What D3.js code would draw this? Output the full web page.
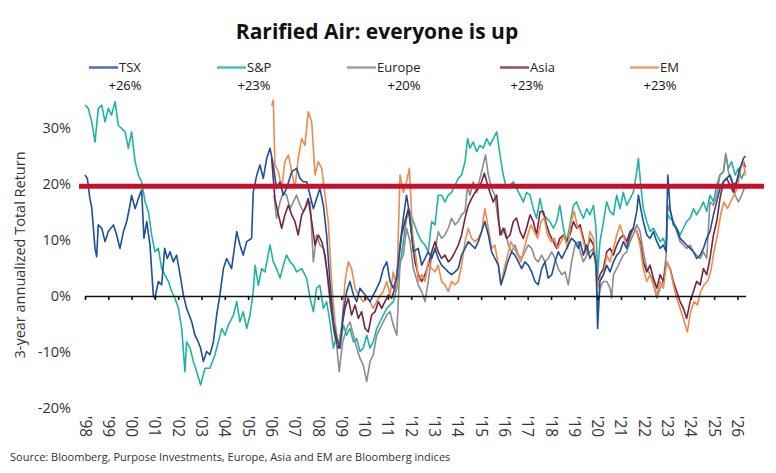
<!DOCTYPE html>
<html><head>
<meta charset="utf-8">
<title>Rarified Air</title>
<script src="https://d3js.org/d3.v7.min.js"></script>
<style>
  body { margin: 0; background: #fff; }
  text { font-family: "Open Sans", "DejaVu Sans", sans-serif; fill: #333; }
</style>
</head>
<body>
<svg id="chart" width="776" height="473"></svg>
<script>

// ---- data (3-year annualized total return, %)
const seriesNames = ["TSX", "S&P", "Europe", "Asia", "EM"];
const latestReturns = ["+26%", "+23%", "+20%", "+23%", "+23%"];
const thresholdValue = 19.6;
const yTicks = [-20, -10, 0, 10, 20, 30];
const xTickYears = [1998, 1999, 2000, 2001, 2002, 2003, 2004, 2005, 2006, 2007, 2008, 2009, 2010,
  2011, 2012, 2013, 2014, 2015, 2016, 2017, 2018, 2019, 2020, 2021, 2022, 2023, 2024, 2025, 2026];

const tsx = [
  [1998.00,21.6],[1998.10,21.0],[1998.21,17.4],[1998.29,15.8],[1998.36,12.1],[1998.43,8.5],[1998.50,7.0],
  [1998.57,12.7],[1998.72,12.1],[1998.86,9.7],[1999.00,11.5],[1999.22,12.7],[1999.36,10.9],[1999.50,8.5],
  [1999.65,11.5],[1999.79,13.3],[1999.93,16.2],[2000.00,18.0],[2000.15,15.6],[2000.29,17.4],[2000.43,18.9],
  [2000.53,10.3],[2000.65,13.3],[2000.79,9.1],[2000.93,0.2],[2001.00,-0.4],[2001.15,2.6],[2001.29,2.0],
  [2001.42,8.5],[2001.53,6.7],[2001.65,7.9],[2001.79,6.1],[2001.93,7.3],[2002.08,3.8],[2002.22,0.2],
  [2002.36,-2.2],[2002.58,-4.6],[2002.72,-7.0],[2002.86,-8.2],[2002.96,-9.3],[2003.08,-11.7],[2003.22,-9.9],
  [2003.36,-10.5],[2003.51,-8.2],[2003.65,-3.4],[2003.79,0.2],[2003.94,4.9],[2004.08,6.7],[2004.29,4.9],
  [2004.51,11.5],[2004.65,9.1],[2004.79,7.3],[2004.94,9.7],[2005.15,10.3],[2005.22,18.5],[2005.37,21.6],
  [2005.51,23.4],[2005.65,21.0],[2005.80,24.6],[2005.94,26.4],[2006.08,23.4],[2006.22,19.2],[2006.37,20.4],
  [2006.51,18.0],[2006.65,19.2],[2006.87,22.2],[2007.08,22.8],[2007.23,21.0],[2007.37,20.4],[2007.51,20.4],
  [2007.66,18.0],[2007.80,15.6],[2007.94,17.4],[2008.08,19.2],[2008.23,16.2],[2008.37,10.9],[2008.51,2.6],
  [2008.66,-4.6],[2008.80,-7.6],[2008.94,-9.3],[2009.09,-2.8],[2009.23,0.8],[2009.37,2.6],[2009.52,0.2],
  [2009.66,-1.0],[2009.80,1.4],[2010.02,0.2],[2010.23,-1.0],[2010.45,0.8],[2010.66,2.6],[2010.80,4.9],
  [2010.95,6.1],[2011.09,2.6],[2011.23,1.4],[2011.38,3.2],[2011.52,9.1],[2011.66,13.9],[2011.80,18.0],
  [2011.95,13.9],[2012.09,7.9],[2012.30,8.5],[2012.45,5.5],[2012.59,6.7],[2012.73,7.9],[2012.88,6.7],
  [2013.02,8.5],[2013.16,6.7],[2013.30,5.5],[2013.45,4.9],[2013.59,4.3],[2013.73,3.8],[2013.88,4.3],
  [2014.02,4.9],[2014.16,7.3],[2014.31,8.5],[2014.45,9.7],[2014.59,9.1],[2014.74,8.5],[2014.88,9.7],
  [2015.02,11.5],[2015.16,13.3],[2015.31,10.9],[2015.45,7.9],[2015.59,6.7],[2015.74,5.5],[2015.85,2.0],
  [2015.99,3.8],[2016.14,6.1],[2016.31,7.9],[2016.45,7.3],[2016.60,6.1],[2016.74,4.9],[2016.88,6.1],
  [2017.02,5.5],[2017.17,4.3],[2017.31,2.6],[2017.45,2.0],[2017.60,4.9],[2017.74,6.1],[2017.88,3.2],
  [2018.03,3.8],[2018.17,6.1],[2018.31,7.9],[2018.46,6.7],[2018.60,7.9],[2018.74,9.1],[2018.88,10.3],
  [2019.03,9.7],[2019.17,8.5],[2019.25,9.7],[2019.39,7.3],[2019.53,9.1],[2019.67,6.7],[2019.82,7.9],
  [2019.93,6.1],[2020.00,-5.8],[2020.10,2.6],[2020.25,3.8],[2020.39,5.5],[2020.53,4.3],[2020.68,6.1],
  [2020.82,7.3],[2020.96,7.9],[2021.10,9.7],[2021.25,8.5],[2021.39,10.9],[2021.53,12.1],[2021.68,15.1],
  [2021.75,18.0],[2021.85,15.6],[2021.96,13.3],[2022.11,10.9],[2022.25,10.3],[2022.39,11.5],[2022.54,9.7],
  [2022.68,8.5],[2022.82,9.1],[2022.94,7.9],[2023.01,21.6],[2023.11,15.6],[2023.25,12.7],[2023.39,12.1],
  [2023.54,10.3],[2023.68,9.7],[2023.82,9.1],[2023.97,8.5],[2024.11,7.9],[2024.25,6.7],[2024.40,7.3],
  [2024.54,8.5],[2024.68,10.3],[2024.82,11.5],[2024.97,14.5],[2025.11,16.8],[2025.25,19.2],[2025.40,20.4],
  [2025.54,21.0],[2025.68,21.6],[2025.83,19.8],[2025.97,20.4],[2026.11,22.8],[2026.26,24.6],[2026.34,25.0]
];

const sp = [
  [1998.00,34.1],[1998.14,33.5],[1998.29,31.1],[1998.43,27.5],[1998.57,33.5],[1998.72,34.1],[1998.86,31.1],
  [1999.00,33.5],[1999.14,32.3],[1999.29,34.7],[1999.43,30.5],[1999.57,29.9],[1999.72,29.3],[1999.86,26.4],
  [2000.00,29.3],[2000.15,24.0],[2000.29,21.6],[2000.43,20.4],[2000.58,16.8],[2000.72,15.1],[2000.86,10.9],
  [2001.00,7.9],[2001.15,8.5],[2001.29,4.9],[2001.42,3.8],[2001.58,2.6],[2001.72,0.8],[2001.86,-0.4],
  [2002.01,-2.2],[2002.15,-5.8],[2002.29,-13.5],[2002.36,-8.2],[2002.51,-9.3],[2002.65,-11.7],[2002.79,-13.5],
  [2002.96,-15.9],[2003.15,-12.9],[2003.36,-12.9],[2003.58,-10.5],[2003.72,-8.2],[2003.87,-5.8],[2004.01,-7.0],
  [2004.15,-5.2],[2004.37,-3.4],[2004.51,-1.0],[2004.65,-4.6],[2004.79,-2.8],[2004.94,-5.8],[2005.08,-3.4],
  [2005.22,0.8],[2005.30,5.5],[2005.44,1.9],[2005.58,4.9],[2005.72,4.3],[2005.94,9.1],[2006.08,6.1],
  [2006.22,4.9],[2006.37,3.2],[2006.51,5.5],[2006.65,7.3],[2006.80,6.1],[2006.94,5.5],[2007.08,4.3],
  [2007.30,4.9],[2007.51,3.2],[2007.66,-0.4],[2007.80,-2.8],[2007.94,1.4],[2008.08,1.9],[2008.23,-2.2],
  [2008.37,-1.0],[2008.51,-4.6],[2008.66,-9.3],[2008.80,-7.0],[2008.94,-9.3],[2009.09,-5.2],[2009.23,-7.0],
  [2009.37,-5.8],[2009.52,-8.2],[2009.66,-7.6],[2009.80,-9.9],[2009.94,-9.3],[2010.09,-7.0],[2010.23,-9.3],
  [2010.37,-8.2],[2010.52,-5.8],[2010.66,-4.6],[2010.80,-3.4],[2010.95,-2.2],[2011.09,-1.6],[2011.23,-1.0],
  [2011.38,1.4],[2011.52,5.5],[2011.66,9.7],[2011.80,13.9],[2011.95,15.1],[2012.09,13.3],[2012.30,10.9],
  [2012.45,9.7],[2012.59,9.1],[2012.73,7.9],[2012.88,13.3],[2013.02,12.7],[2013.16,18.0],[2013.30,18.0],
  [2013.45,16.8],[2013.59,18.0],[2013.73,18.5],[2013.88,19.8],[2014.02,21.0],[2014.16,21.6],[2014.31,24.0],
  [2014.42,28.1],[2014.52,26.4],[2014.66,27.5],[2014.81,25.8],[2014.95,26.9],[2015.09,26.4],[2015.24,28.1],
  [2015.38,26.9],[2015.52,28.1],[2015.67,29.3],[2015.81,25.2],[2015.95,21.6],[2016.09,19.2],[2016.24,19.8],
  [2016.38,20.4],[2016.52,19.2],[2016.67,18.0],[2016.81,16.8],[2016.95,18.5],[2017.10,18.0],[2017.24,15.6],
  [2017.38,13.9],[2017.53,17.4],[2017.67,14.5],[2017.81,13.9],[2017.95,13.3],[2018.10,12.1],[2018.24,13.3],
  [2018.38,16.2],[2018.53,12.1],[2018.67,9.7],[2018.81,12.7],[2018.96,16.2],[2019.10,16.8],[2019.25,15.1],
  [2019.39,13.9],[2019.53,15.6],[2019.67,14.5],[2019.82,16.2],[2019.93,12.1],[2020.00,3.8],[2020.10,9.7],
  [2020.25,13.3],[2020.39,16.8],[2020.53,15.1],[2020.68,14.5],[2020.82,18.0],[2020.96,15.6],[2021.10,18.5],
  [2021.25,16.2],[2021.39,17.4],[2021.53,18.5],[2021.68,22.2],[2021.75,24.6],[2021.85,19.8],[2021.96,15.6],
  [2022.11,13.3],[2022.25,11.5],[2022.39,12.1],[2022.54,10.9],[2022.68,9.7],[2022.82,10.3],[2022.94,8.5],
  [2023.01,14.5],[2023.11,13.9],[2023.25,13.3],[2023.39,12.1],[2023.54,10.9],[2023.68,12.1],[2023.82,13.3],
  [2023.97,13.9],[2024.11,15.6],[2024.25,14.5],[2024.40,15.6],[2024.54,16.8],[2024.68,15.1],[2024.82,18.0],
  [2024.97,16.8],[2025.11,19.8],[2025.25,21.6],[2025.40,22.2],[2025.50,25.2],[2025.61,22.8],[2025.75,24.0],
  [2025.90,21.6],[2026.04,22.8],[2026.18,21.0],[2026.34,22.5]
];

const europe = [
  [2006.11,18.0],[2006.22,13.9],[2006.37,16.8],[2006.51,18.5],[2006.65,18.0],[2006.80,15.6],[2006.94,16.8],
  [2007.08,18.0],[2007.23,16.2],[2007.37,15.1],[2007.51,16.2],[2007.66,16.8],[2007.80,6.1],[2007.94,10.9],
  [2008.08,9.1],[2008.23,8.5],[2008.37,4.9],[2008.51,-1.0],[2008.66,-5.8],[2008.80,-8.8],[2008.91,-13.5],
  [2009.06,-8.2],[2009.23,-5.8],[2009.37,-4.6],[2009.52,-7.0],[2009.66,-9.3],[2009.80,-11.1],[2009.94,-12.3],
  [2010.09,-15.3],[2010.23,-11.7],[2010.37,-10.5],[2010.52,-7.0],[2010.66,-5.8],[2010.80,-4.6],[2010.95,-3.4],
  [2011.09,-2.8],[2011.23,-5.2],[2011.38,-7.0],[2011.52,6.1],[2011.66,7.3],[2011.80,12.1],[2011.95,9.7],
  [2012.09,4.9],[2012.30,2.0],[2012.45,0.8],[2012.59,-1.0],[2012.73,2.6],[2012.88,7.3],[2013.02,7.9],
  [2013.16,11.5],[2013.30,10.3],[2013.45,10.9],[2013.59,12.1],[2013.73,13.9],[2013.88,12.7],[2014.02,13.3],
  [2014.16,14.5],[2014.31,15.1],[2014.42,19.8],[2014.52,18.0],[2014.66,20.4],[2014.81,18.5],[2014.95,21.0],
  [2015.09,23.4],[2015.19,25.2],[2015.31,21.6],[2015.45,19.2],[2015.59,18.0],[2015.74,13.3],[2015.88,10.9],
  [2016.02,12.1],[2016.17,9.1],[2016.31,7.9],[2016.45,9.1],[2016.60,7.3],[2016.74,6.7],[2016.88,7.9],
  [2017.02,9.1],[2017.17,8.5],[2017.31,6.7],[2017.45,6.1],[2017.60,7.3],[2017.74,6.1],[2017.88,6.7],
  [2018.03,7.9],[2018.17,6.7],[2018.31,4.9],[2018.46,3.8],[2018.60,4.3],[2018.74,2.0],[2018.88,6.1],
  [2019.03,9.1],[2019.17,9.7],[2019.25,7.9],[2019.39,6.1],[2019.53,7.3],[2019.67,7.9],[2019.82,8.5],
  [2019.93,4.9],[2020.00,-2.2],[2020.10,1.4],[2020.25,2.6],[2020.39,2.6],[2020.53,1.4],[2020.60,-0.4],
  [2020.68,3.8],[2020.82,4.9],[2020.96,6.1],[2021.10,7.3],[2021.25,7.9],[2021.39,9.7],[2021.53,10.9],
  [2021.68,12.7],[2021.82,11.5],[2021.96,7.9],[2022.11,4.9],[2022.25,3.8],[2022.39,2.6],[2022.54,-0.4],
  [2022.68,1.4],[2022.82,2.6],[2022.94,7.3],[2023.01,16.2],[2023.11,15.1],[2023.25,13.3],[2023.39,11.5],
  [2023.54,9.7],[2023.68,9.1],[2023.82,8.5],[2023.97,9.1],[2024.11,7.9],[2024.25,7.3],[2024.40,6.7],
  [2024.54,7.9],[2024.68,6.7],[2024.82,16.8],[2024.97,16.2],[2025.11,18.0],[2025.25,21.6],[2025.40,22.2],
  [2025.50,25.5],[2025.61,22.2],[2025.75,20.4],[2025.90,18.0],[2026.04,16.8],[2026.18,18.0],[2026.34,19.8]
];

const asia = [
  [2006.01,24.6],[2006.15,17.4],[2006.30,14.5],[2006.44,12.1],[2006.58,14.5],[2006.73,16.2],[2006.87,14.5],
  [2007.01,13.3],[2007.15,10.9],[2007.30,14.5],[2007.44,15.6],[2007.58,17.4],[2007.73,13.3],[2007.87,9.1],
  [2008.01,10.9],[2008.16,9.7],[2008.30,7.3],[2008.44,2.6],[2008.59,-2.8],[2008.73,-7.0],[2008.87,-9.3],
  [2009.01,-5.8],[2009.16,-2.2],[2009.30,-0.4],[2009.44,-3.4],[2009.59,-1.6],[2009.73,-4.0],[2009.87,-2.8],
  [2010.02,-5.8],[2010.16,-6.4],[2010.30,-3.4],[2010.45,-2.8],[2010.59,-1.0],[2010.73,-2.2],[2010.87,-1.0],
  [2011.02,0.2],[2011.16,-0.4],[2011.30,1.4],[2011.45,6.1],[2011.59,10.9],[2011.73,13.3],[2011.88,15.6],
  [2012.02,10.9],[2012.16,6.1],[2012.30,3.8],[2012.45,2.6],[2012.59,3.8],[2012.73,5.5],[2012.88,7.9],
  [2013.02,9.7],[2013.16,7.9],[2013.30,6.7],[2013.45,7.3],[2013.59,6.1],[2013.73,6.7],[2013.88,7.9],
  [2014.02,9.1],[2014.16,10.9],[2014.31,13.9],[2014.45,16.2],[2014.59,17.4],[2014.74,18.5],[2014.88,19.2],
  [2015.02,20.4],[2015.14,21.9],[2015.24,20.4],[2015.38,18.5],[2015.52,16.8],[2015.67,18.0],[2015.81,10.9],
  [2015.95,12.1],[2016.09,10.3],[2016.24,10.9],[2016.38,13.3],[2016.52,13.9],[2016.67,11.5],[2016.81,10.3],
  [2016.95,12.1],[2017.10,14.5],[2017.24,13.3],[2017.38,10.9],[2017.53,15.1],[2017.67,15.1],[2017.81,12.7],
  [2017.95,10.9],[2018.10,9.7],[2018.24,8.5],[2018.38,10.3],[2018.53,10.9],[2018.67,9.7],[2018.81,10.9],
  [2018.96,13.3],[2019.10,12.1],[2019.25,12.7],[2019.39,10.3],[2019.53,7.9],[2019.67,10.3],[2019.82,9.1],
  [2019.93,5.5],[2020.00,2.6],[2020.10,3.8],[2020.25,4.9],[2020.39,7.9],[2020.53,8.5],[2020.68,7.3],
  [2020.82,9.1],[2020.96,10.3],[2021.10,10.9],[2021.25,9.7],[2021.39,11.5],[2021.53,12.1],[2021.68,11.5],
  [2021.82,9.7],[2021.96,6.1],[2022.11,4.3],[2022.25,5.5],[2022.39,3.2],[2022.54,1.4],[2022.68,3.8],
  [2022.82,2.6],[2022.96,6.1],[2023.11,4.9],[2023.25,2.6],[2023.39,0.8],[2023.54,-1.0],[2023.68,-2.2],
  [2023.82,-4.0],[2023.97,-1.0],[2024.11,0.8],[2024.25,2.6],[2024.40,2.0],[2024.54,4.9],[2024.68,3.8],
  [2024.82,6.7],[2024.97,10.9],[2025.11,13.3],[2025.25,17.4],[2025.40,20.4],[2025.54,21.0],[2025.68,19.8],
  [2025.83,18.5],[2025.97,20.4],[2026.11,22.8],[2026.26,24.0],[2026.34,23.0]
];

const em = [
  [2006.01,34.0],[2006.08,35.0],[2006.15,23.4],[2006.30,22.2],[2006.44,19.2],[2006.58,24.0],[2006.73,25.2],
  [2006.87,22.2],[2007.01,19.2],[2007.15,24.6],[2007.30,28.1],[2007.44,26.9],[2007.58,32.9],[2007.73,31.1],
  [2007.87,21.6],[2008.01,24.0],[2008.16,22.8],[2008.30,18.0],[2008.44,13.3],[2008.59,2.0],[2008.73,-4.6],
  [2008.87,-8.8],[2009.01,-5.8],[2009.16,2.6],[2009.30,6.1],[2009.44,4.9],[2009.59,1.4],[2009.73,0.2],
  [2009.94,-1.0],[2010.16,-0.4],[2010.37,-2.2],[2010.59,-0.4],[2010.80,0.8],[2010.95,2.6],[2011.09,0.2],
  [2011.23,4.3],[2011.38,1.4],[2011.52,21.6],[2011.66,18.5],[2011.80,20.4],[2011.92,22.8],[2012.06,10.9],
  [2012.23,6.1],[2012.30,2.6],[2012.45,3.8],[2012.59,2.6],[2012.73,6.1],[2012.88,4.9],[2013.02,4.3],
  [2013.16,5.5],[2013.30,2.6],[2013.45,2.0],[2013.59,0.8],[2013.73,2.6],[2013.88,2.0],[2014.02,2.6],
  [2014.16,5.5],[2014.31,9.7],[2014.45,12.1],[2014.59,10.3],[2014.74,9.7],[2014.88,10.3],[2015.02,11.5],
  [2015.16,15.6],[2015.31,12.1],[2015.45,8.5],[2015.59,9.1],[2015.74,5.5],[2015.85,2.0],[2015.99,4.9],
  [2016.14,7.3],[2016.28,9.7],[2016.42,8.5],[2016.57,7.3],[2016.71,6.1],[2016.85,8.5],[2017.00,10.9],
  [2017.14,12.7],[2017.28,11.5],[2017.43,10.3],[2017.57,13.3],[2017.71,13.9],[2017.85,10.9],[2018.00,9.7],
  [2018.14,10.3],[2018.28,8.5],[2018.43,9.7],[2018.57,10.9],[2018.71,8.5],[2018.86,13.3],[2019.00,15.1],
  [2019.14,12.1],[2019.25,12.1],[2019.39,9.7],[2019.53,7.3],[2019.67,11.5],[2019.82,10.3],[2019.93,4.9],
  [2020.00,1.4],[2020.10,3.2],[2020.25,3.8],[2020.39,7.3],[2020.53,6.1],[2020.68,8.5],[2020.82,10.9],
  [2020.96,12.7],[2021.10,10.9],[2021.25,9.1],[2021.39,10.3],[2021.53,12.1],[2021.68,11.5],[2021.82,9.1],
  [2021.96,4.9],[2022.11,2.6],[2022.25,3.8],[2022.39,2.0],[2022.54,0.2],[2022.68,2.6],[2022.82,1.4],
  [2022.96,6.1],[2023.11,4.9],[2023.25,2.0],[2023.39,-0.4],[2023.54,-2.2],[2023.68,-4.0],[2023.85,-6.4],
  [2023.99,-2.8],[2024.14,-1.0],[2024.28,-1.6],[2024.42,0.8],[2024.57,2.0],[2024.71,2.6],[2024.85,4.3],
  [2024.99,7.9],[2025.14,10.9],[2025.28,14.5],[2025.42,16.8],[2025.57,15.6],[2025.71,16.8],[2025.85,18.0],
  [2025.99,19.2],[2026.14,22.8],[2026.25,24.0],[2026.34,21.5]
];

const seriesData = [tsx, sp, europe, asia, em];
const colors = ["#1d4f9a", "#1fb3a6", "#8c8c8c", "#75243f", "#f08a4b"];

// ---- layout
const svg = d3.select("#chart");
const plot = {left: 85, right: 745.6, top: 100, bottom: 408};

const x = d3.scaleLinear().domain([1998, 2026.35]).range([plot.left, plot.right]);
const y = d3.scaleLinear().domain([-20, 35]).range([plot.bottom, plot.top]);

// title
svg.append("text")
   .attr("x", 377).attr("y", 39)
   .attr("text-anchor", "middle")
   .style("font-size", "21px").style("font-weight", "700").style("fill", "#111")
   .text("Rarified Air: everyone is up");

// legend: name on one row, latest return below it
const legendX = [89, 217, 347, 500, 630];
const legendValueX = [125, 254, 404, 527, 660];
const legend = svg.append("g").attr("class", "legend");
seriesNames.forEach((name, i) => {
  legend.append("line")
        .attr("x1", legendX[i]).attr("x2", legendX[i] + 29)
        .attr("y1", 67.5).attr("y2", 67.5)
        .attr("stroke", colors[i]).attr("stroke-width", 2.5).attr("opacity", 0.8);
  legend.append("text")
        .attr("x", legendX[i] + 30).attr("y", 71.5)
        .style("font-size", "13px").style("fill", "#222")
        .text(name);
  legend.append("text")
        .attr("x", legendValueX[i]).attr("y", 89.5)
        .attr("text-anchor", "middle")
        .style("font-size", "13px").style("fill", "#111")
        .text(latestReturns[i]);
});

// y axis labels (no axis line)
const leftAxis = d3.axisLeft(y).tickValues(yTicks).tickSize(0).tickPadding(14)
                   .tickFormat(d => d + "%");
svg.append("g")
   .attr("class", "y axis")
   .attr("transform", "translate(" + plot.left + ",0)")
   .call(leftAxis)
   .call(g => g.select(".domain").remove())
   .call(g => g.selectAll("text")
               .style("font-size", "14.5px")
               .style("font-family", "'Open Sans', sans-serif")
               .attr("fill", "#333"));

svg.append("text")
   .attr("transform", "translate(25," + 255 + ") rotate(-90)")
   .attr("text-anchor", "middle")
   .style("font-size", "14.5px").style("fill", "#333")
   .text("3-year annualized Total Return");

// series lines
const line = d3.line().x(d => x(d[0])).y(d => y(d[1]));
const drawOrder = [1, 2, 3, 4, 0];
drawOrder.forEach(i => {
  svg.append("path")
     .datum(seriesData[i])
     .attr("fill", "none")
     .attr("stroke", colors[i])
     .attr("stroke-width", 1.6)
     .attr("stroke-linejoin", "round")
     .attr("d", line);
});

// zero axis with year ticks
const bottomAxis = d3.axisBottom(x).tickValues(xTickYears).tickSize(4).tickSizeOuter(0).tickFormat("");
svg.append("g")
   .attr("class", "x axis")
   .attr("transform", "translate(0," + y(0) + ")")
   .call(bottomAxis)
   .call(g => g.selectAll("path, line").attr("stroke", "#111").attr("stroke-width", 1.6));

// rotated year labels along the bottom
svg.append("g").selectAll("text")
   .data(xTickYears)
   .join("text")
   .attr("transform", d => "translate(" + x(d) + "," + (plot.bottom + 8) + ") rotate(90)")
   .attr("dy", "0.35em")
   .style("font-size", "15.5px").style("fill", "#333")
   .text(d => "'" + String(d).slice(2));

// the 20% line
svg.append("line")
   .attr("x1", 79).attr("x2", 764)
   .attr("y1", y(thresholdValue)).attr("y2", y(thresholdValue))
   .attr("stroke", "#c8102e").attr("stroke-width", 5);

// source
svg.append("text")
   .attr("x", 10).attr("y", 461)
   .style("font-size", "11px").style("fill", "#333")
   .text("Source: Bloomberg, Purpose Investments, Europe, Asia and EM are Bloomberg indices");

</script>
</body>
</html>
